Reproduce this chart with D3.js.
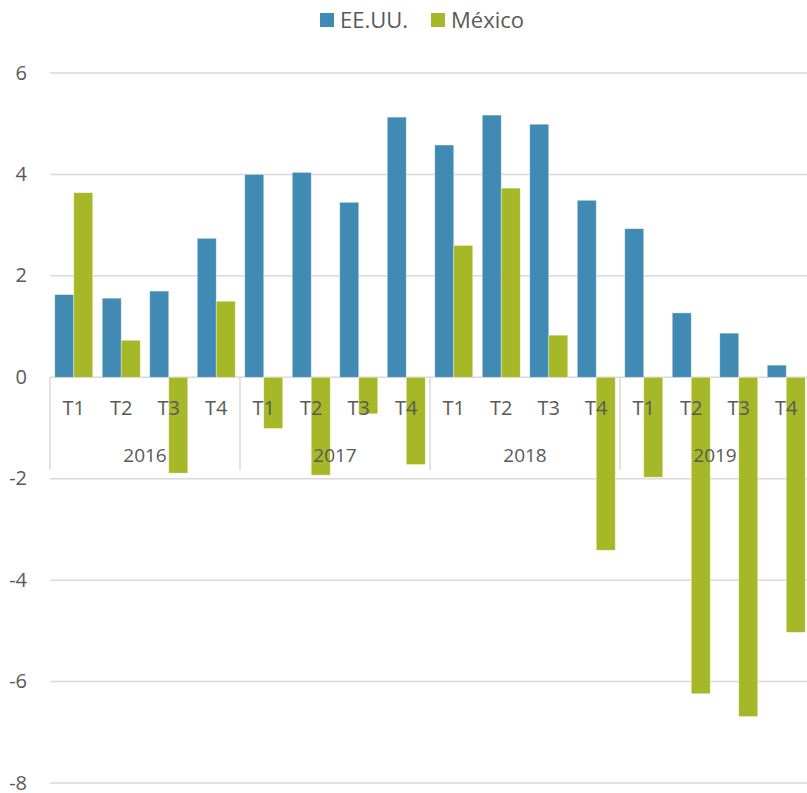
<!DOCTYPE html>
<html>
<head>
    <meta charset="utf-8">
    <style>
        body { margin: 0; background: #fff; }
        text { font-family: "Open Sans", sans-serif; fill: #595959; }
    </style>
    <script type="text/javascript" src="https://d3js.org/d3.v7.min.js"></script>
</head>
<body>
<svg width="807" height="793"></svg>
<script>
    // data
    let years = ["2016", "2017", "2018", "2019"];
    let quarters = ["T1", "T2", "T3", "T4"];
    let seriesNames = ["EE.UU.", "México"];
    let usa = [1.63, 1.56, 1.70, 2.74, 4.00, 4.04, 3.45, 5.13, 4.58, 5.17, 4.99, 3.49, 2.93, 1.27, 0.87, 0.24];
    let mexico = [3.64, 0.73, -1.89, 1.50, -1.01, -1.93, -0.72, -1.72, 2.60, 3.73, 0.83, -3.41, -1.97, -6.24, -6.69, -5.03];
    let yTicks = [6, 4, 2, 0, -2, -4, -6, -8];

    let colors = ["#418AB3", "#A6B727"];

    let svg = d3.select("svg");

    let periods = [];
    years.forEach(function(y) {
        quarters.forEach(function(q) { periods.push(y + "-" + q); });
    });

    let rows = periods.map(function(p, i) {
        return { id: p, year: p.split("-")[0], q: p.split("-")[1], values: [usa[i], mexico[i]] };
    });

    let left = 50, right = 810;

    let y = d3.scaleLinear().domain([-8, 6]).range([783, 73]);

    let x0 = d3.scaleBand()
        .domain(periods)
        .range([left, right])
        .paddingInner(0.2)
        .paddingOuter(0.1);

    let x1 = d3.scaleBand()
        .domain([0, 1])
        .range([0, x0.bandwidth()]);

    let yearScale = d3.scaleBand().domain(years).range([left, right]);

    // gridlines
    svg.append("g")
        .selectAll("line")
        .data(yTicks)
        .enter()
        .append("line")
        .attr("x1", left)
        .attr("x2", 807)
        .attr("y1", function(d) { return y(d); })
        .attr("y2", function(d) { return y(d); })
        .attr("stroke", "#d9d9d9")
        .attr("stroke-width", 1.5);

    // y labels
    svg.append("g")
        .selectAll("text")
        .data(yTicks)
        .enter()
        .append("text")
        .attr("x", 27)
        .attr("y", function(d) { return y(d); })
        .attr("dy", "0.33em")
        .attr("text-anchor", "end")
        .style("font-size", "20px")
        .text(function(d) { return d; });

    // category axis: year separators
    let sepX = years.map(function(yr) { return yearScale(yr); }).concat([right]);
    svg.append("g")
        .selectAll("line")
        .data(sepX)
        .enter()
        .append("line")
        .attr("x1", function(d) { return d; })
        .attr("x2", function(d) { return d; })
        .attr("y1", y(0))
        .attr("y2", 470)
        .attr("stroke", "#d9d9d9")
        .attr("stroke-width", 1.5);

    // bars
    let group = svg.append("g")
        .selectAll("g")
        .data(rows)
        .enter()
        .append("g")
        .attr("transform", function(d) { return "translate(" + x0(d.id) + ",0)"; });

    group.selectAll("rect")
        .data(function(d) { return d.values.map(function(v, k) { return { k: k, v: v }; }); })
        .enter()
        .append("rect")
        .attr("x", function(d) { return x1(d.k); })
        .attr("width", x1.bandwidth())
        .attr("y", function(d) { return y(Math.max(0, d.v)); })
        .attr("height", function(d) { return Math.abs(y(d.v) - y(0)); })
        .attr("fill", function(d) { return colors[d.k]; })
        .attr("stroke", "#ffffff")
        .attr("stroke-opacity", 0.5)
        .attr("stroke-width", 0.75);

    // category labels drawn over the bars
    svg.append("g")
        .selectAll("text")
        .data(rows)
        .enter()
        .append("text")
        .attr("x", function(d) { return x0(d.id) + x0.bandwidth() / 2; })
        .attr("y", 415)
        .attr("text-anchor", "middle")
        .style("font-size", "20px")
        .text(function(d) { return d.q; });

    svg.append("g")
        .selectAll("text")
        .data(years)
        .enter()
        .append("text")
        .attr("x", function(d) { return yearScale(d) + yearScale.bandwidth() / 2; })
        .attr("y", 462)
        .attr("text-anchor", "middle")
        .style("font-size", "19px")
        .text(function(d) { return d; });

    // legend
    let legendX = [320, 431];
    let legend = svg.append("g")
        .selectAll("g")
        .data(seriesNames)
        .enter()
        .append("g")
        .attr("transform", function(d, i) { return "translate(" + legendX[i] + ",13)"; });

    legend.append("rect")
        .attr("width", 14)
        .attr("height", 14)
        .attr("fill", function(d, i) { return colors[i]; });

    legend.append("text")
        .attr("x", 20)
        .attr("y", 15)
        .style("font-size", "22px")
        .text(function(d) { return d; });
</script>
</body>
</html>
